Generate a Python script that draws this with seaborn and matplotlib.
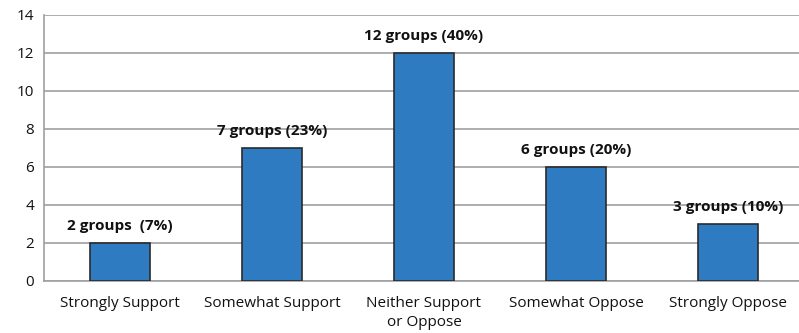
import numpy as np
import pandas as pd
import seaborn as sns
import matplotlib.pyplot as plt
from matplotlib.ticker import FixedLocator

categories = ['Strongly Support', 'Somewhat Support', 'Neither Support\nor Oppose',
              'Somewhat Oppose', 'Strongly Oppose']
groups = [2, 7, 12, 6, 3]
labels = ['2 groups  (7%)', '7 groups (23%)', '12 groups (40%)',
          '6 groups (20%)', '3 groups (10%)']
y_ticks = [0, 2, 4, 6, 8, 10, 12, 14]

sns.set_style('white')
plt.rcParams['font.family'] = ['Open Sans', 'DejaVu Sans']

df = pd.DataFrame({'category': categories, 'groups': groups})

fig = plt.figure(figsize=(7.99, 3.33), dpi=100)
ax = fig.add_axes([44 / 799, 1 - 281 / 333, 760 / 799, 266 / 333])

sns.barplot(data=df, x='category', y='groups', color='#2E7BC1', width=0.4,
            edgecolor='#2b2b2b', linewidth=1.2, saturation=1, ax=ax, zorder=3)

ax.set_xlim(-0.5, 4.5)
ax.set_ylim(0, 14)
ax.set_yticks(y_ticks)
ax.yaxis.grid(True, color='#a0a0a0', linewidth=1.2, zorder=0)
ax.set_axisbelow(True)

for s in ['top', 'right']:
    ax.spines[s].set_visible(False)
for s in ['left', 'bottom']:
    ax.spines[s].set_color('#a0a0a0')
    ax.spines[s].set_linewidth(1.2)

ax.tick_params(axis='y', length=4, width=1.2, color='#a0a0a0', labelsize=11,
               labelcolor='#111111', pad=3)
ax.tick_params(axis='x', which='major', length=0, labelsize=11,
               labelcolor='#111111', pad=11)
ax.xaxis.set_minor_locator(FixedLocator(np.arange(-0.5, 5, 1)))
ax.tick_params(axis='x', which='minor', length=6, width=1.2, color='#a0a0a0')
ax.set_xlabel('')
ax.set_ylabel('')
for t in ax.get_xticklabels():
    t.set_linespacing(1.3)
    t.set_va('top')

for i, (v, lab) in enumerate(zip(groups, labels)):
    ax.annotate(lab, (i, v), xytext=(0, 12), textcoords='offset points',
                ha='center', va='center', fontsize=11, fontweight='bold', color='#111111')

fig.savefig('out.png', dpi=100)
